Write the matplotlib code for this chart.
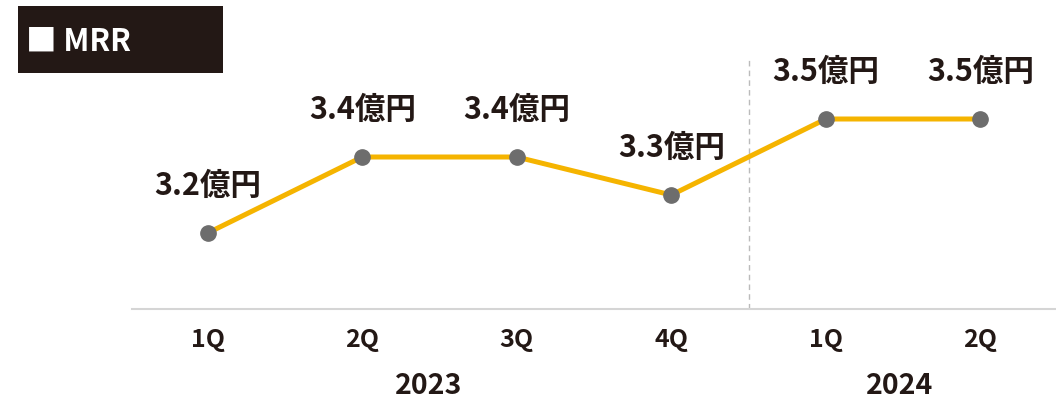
import matplotlib
matplotlib.use('Agg')
import matplotlib.pyplot as plt
from matplotlib.patches import Rectangle
from matplotlib.transforms import blended_transform_factory

plt.rcParams['font.family'] = ['Noto Sans CJK JP', 'DejaVu Sans']

quarters = ['1Q', '2Q', '3Q', '4Q', '1Q', '2Q']
mrr = [3.2, 3.4, 3.4, 3.3, 3.5, 3.5]
value_labels = ['3.2億円', '3.4億円', '3.4億円', '3.3億円', '3.5億円', '3.5億円']
years = ['2023', '2024']
year_pos = [1.43, 4.48]
year_split = 3.5

text_color = '#231815'

fig = plt.figure(figsize=(10.56, 4.05), dpi=100)
ax = fig.add_axes([132 / 1056, 96 / 405, 1 - 132 / 1056, 266 / 405])

x = list(range(len(mrr)))
ax.plot(x, mrr, color='#f5b400', linewidth=3.6, zorder=2)
ax.plot(x, mrr, 'o', color='#6d6d6d', markersize=11, zorder=3)

for xi, yi, lab in zip(x, mrr, value_labels):
    ax.annotate(lab, (xi, yi), xytext=(0, 34), textcoords='offset points',
                ha='center', va='center', fontsize=22, fontweight='bold', color=text_color)

ax.plot([year_split, year_split], [3.0, 3.66], color='#bbbbbb', linewidth=1, linestyle=(0, (4, 3)), zorder=1)

ax.set_xlim(-0.49, 5.49)
ax.set_ylim(3.0, 3.7)
ax.set_xticks(x)
ax.set_xticklabels(quarters, fontsize=18, fontweight='bold', color=text_color)
ax.set_yticks([])
ax.tick_params(axis='x', length=0, pad=14)
for s in ['top', 'right', 'left']:
    ax.spines[s].set_visible(False)
ax.spines['bottom'].set_color('#d5d5d5')
ax.spines['bottom'].set_linewidth(1.5)

trans = blended_transform_factory(ax.transData, ax.transAxes)
for yp, yl in zip(year_pos, years):
    ax.text(yp, -0.289, yl, transform=trans, ha='center', va='center',
            fontsize=20.5, fontweight='bold', color=text_color)

# title box
fig.patches.append(Rectangle((18 / 1056, 1 - 73 / 405), 205 / 1056, 67 / 405,
                             transform=fig.transFigure, facecolor=text_color, edgecolor='none'))
fig.text(26 / 1056, 1 - 42 / 405, '■ MRR', ha='left', va='center', fontsize=22,
         fontweight='bold', color='white')

fig.savefig('out.png', dpi=100)
